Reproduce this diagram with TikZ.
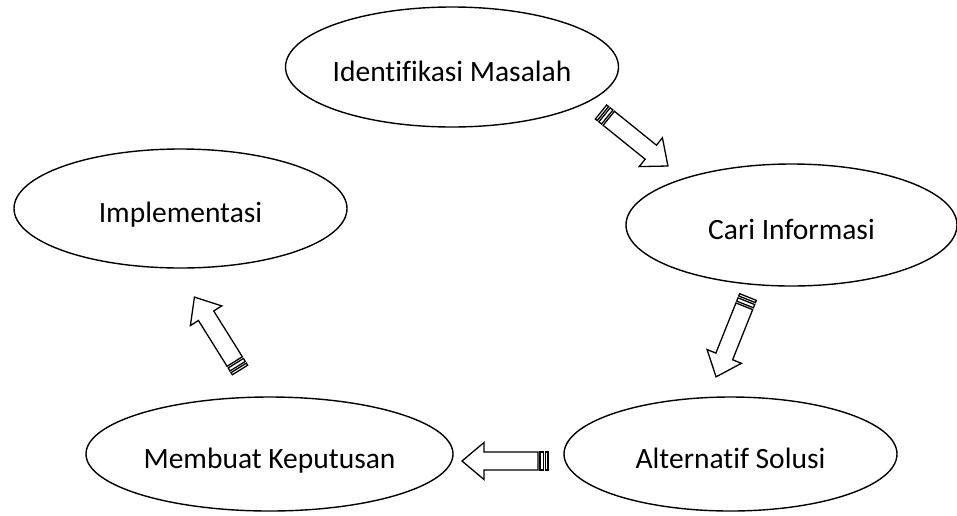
\documentclass[tikz,border=0pt]{standalone}
\usepackage{fontspec}
\setmainfont{Carlito}[Ligatures={NoCommon}]
\usetikzlibrary{shapes.geometric}
\newcommand{\stripedarrow}[3]{%
  \begin{scope}[shift={(#1)},rotate=#2,blockarrow]
    \draw (0,-9) rectangle (2.5,9);
    \draw (4.5,-9) rectangle (8,9);
    \draw (10,-9) -- (64,-9) -- (64,-18.5) -- (86,0) -- (64,18.5) -- (64,9) -- (10,9) -- cycle;
    \coordinate (#3) at (86,0);
  \end{scope}}
\begin{document}
\begin{tikzpicture}[x=1pt,y=-1pt,
  stepnode/.style={ellipse,draw,line width=1.4pt,inner sep=0pt,
    label={[font=\fontsize{29.5}{35}\selectfont,inner sep=0pt,text height=20pt,text depth=6pt,yshift=-7pt]center:#1}},
  blockarrow/.style={line width=1.3pt,line join=miter}]
\useasboundingbox (0,0) rectangle (957,515);
\node[stepnode={Identifikasi Masalah},minimum width=333,minimum height=120] (idm) at (452,67) {};
\node[stepnode={Implementasi},minimum width=333,minimum height=119] (imp) at (180.5,208.5) {};
\node[stepnode={Cari Informasi},minimum width=331,minimum height=122] (cari) at (791.5,225) {};
\node[stepnode={Membuat Keputusan},minimum width=367,minimum height=114] (mk) at (269.5,454) {};
\node[stepnode={Alternatif Solusi},minimum width=333,minimum height=114] (alt) at (730.5,454) {};
\coordinate (t1) at (601,112);
\coordinate (t2) at (748,297);
\coordinate (t3) at (548,461);
\coordinate (t4) at (240,370);
\stripedarrow{t1}{-38.9}{h1}
\stripedarrow{t2}{-111.8}{h2}
\stripedarrow{t3}{180}{h3}
\stripedarrow{t4}{122}{h4}
\end{tikzpicture}
\end{document}
